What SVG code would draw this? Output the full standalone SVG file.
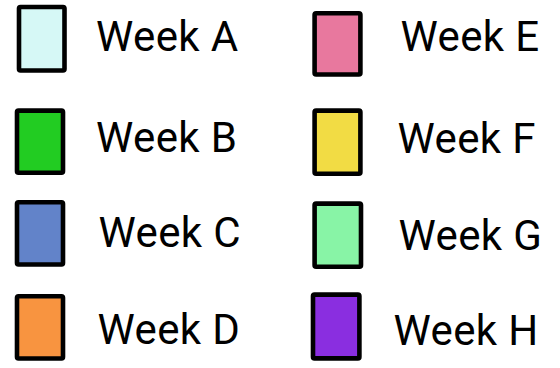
<svg xmlns="http://www.w3.org/2000/svg" width="560" height="368" viewBox="0 0 560 368">
<style>
.sw{stroke:#000;stroke-width:4.6;stroke-linejoin:round}
.lb{font-family:Roboto,"Liberation Sans",sans-serif;font-size:42px;fill:#000;letter-spacing:0.4px}
</style>
<rect width="560" height="368" fill="#fff"/>
<g id="week-a"><rect class="sw" x="19" y="7" width="45.5" height="63.5" rx="1.5" fill="#d6f8f6"/><text class="lb" x="96" y="50.7">Week A</text></g>
<g id="week-b"><rect class="sw" x="17" y="110.6" width="46" height="62.2" rx="1.5" fill="#22cc22"/><text class="lb" x="96" y="152">Week B</text></g>
<g id="week-c"><rect class="sw" x="17" y="202.3" width="46" height="62.2" rx="1.5" fill="#6283c9"/><text class="lb" x="98.5" y="247.3">Week C</text></g>
<g id="week-d"><rect class="sw" x="17" y="296.3" width="46" height="62.2" rx="1.5" fill="#f89440"/><text class="lb" x="97.5" y="343.5">Week D</text></g>
<g id="week-e"><rect class="sw" x="314.6" y="13.3" width="45.8" height="61.2" rx="1.5" fill="#e8789e"/><text class="lb" x="400.5" y="51">Week E</text></g>
<g id="week-f"><rect class="sw" x="314.6" y="110.6" width="45.8" height="63.1" rx="1.5" fill="#f2dc44"/><text class="lb" x="397.5" y="152.7">Week F</text></g>
<g id="week-g"><rect class="sw" x="314.6" y="203.6" width="46.4" height="63.1" rx="1.5" fill="#88f4a6"/><text class="lb" x="398.5" y="250">Week G</text></g>
<g id="week-h"><rect class="sw" x="313" y="294.6" width="46.4" height="63.8" rx="1.5" fill="#8a2ee0"/><text class="lb" x="393.5" y="345">Week H</text></g>
</svg>
